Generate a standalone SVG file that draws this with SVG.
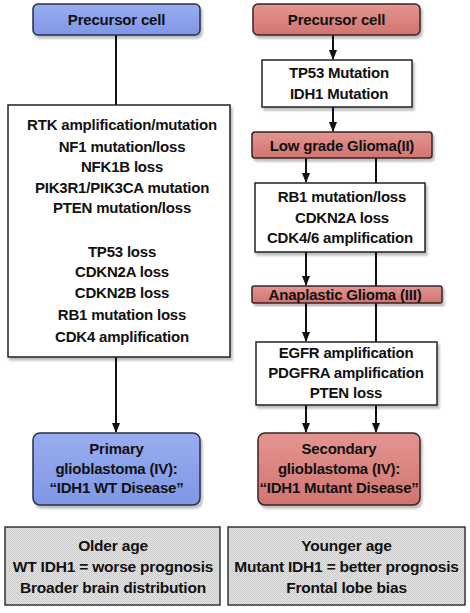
<svg xmlns="http://www.w3.org/2000/svg" width="470" height="613" viewBox="0 0 470 613">
<defs>
<linearGradient id="gBlue" x1="0" y1="0" x2="0" y2="1">
<stop offset="0" stop-color="#98adf0"/>
<stop offset="1" stop-color="#7f97e6"/>
</linearGradient>
<linearGradient id="gRed" x1="0" y1="0" x2="0" y2="1">
<stop offset="0" stop-color="#e39591"/>
<stop offset="1" stop-color="#d27470"/>
</linearGradient>
<pattern id="pGray" width="2" height="2" patternUnits="userSpaceOnUse">
<rect width="2" height="2" fill="#e6e6e6"/>
<rect width="1" height="1" fill="#c9c9c9"/>
<rect x="1" y="1" width="1" height="1" fill="#c9c9c9"/>
</pattern>
<marker id="arr" viewBox="0 0 10 10" refX="9" refY="5" markerWidth="5" markerHeight="5" orient="auto">
<path d="M0,1 L10,5 L0,9 Z" fill="#111"/>
</marker>
<filter id="sh" x="-5%" y="-5%" width="115%" height="125%">
<feDropShadow dx="2" dy="3" stdDeviation="1" flood-color="#000" flood-opacity="0.25"/>
</filter>
</defs>
<style>
text{font-family:"Liberation Sans",Arial,sans-serif;font-weight:bold;font-size:15px;fill:#111;text-anchor:middle;letter-spacing:-0.2px}
.big{font-size:15.5px}
.blue{fill:url(#gBlue);stroke:#2a2f4a;stroke-width:1.5}
.red{fill:url(#gRed);stroke:#3a2222;stroke-width:1.5}
.white{fill:#fff;stroke:#222;stroke-width:1.5}
.gray{fill:url(#pGray);stroke:#333;stroke-width:1.5}
.conn line{stroke:#111;stroke-width:2}
</style>

<g class="conn" id="connectors">
<line x1="116" y1="35" x2="116" y2="105"/>
<line x1="116" y1="357" x2="116" y2="432" marker-end="url(#arr)"/>
<line x1="333" y1="35" x2="333" y2="59" marker-end="url(#arr)"/>
<line x1="333" y1="107" x2="333" y2="131" marker-end="url(#arr)"/>
<line x1="306" y1="158" x2="306" y2="182" marker-end="url(#arr)"/>
<line x1="376" y1="158" x2="376" y2="183"/>
<line x1="306" y1="252" x2="306" y2="285" marker-end="url(#arr)"/>
<line x1="376" y1="252" x2="376" y2="286"/>
<line x1="306" y1="303" x2="306" y2="341" marker-end="url(#arr)"/>
<line x1="376" y1="303" x2="376" y2="342"/>
<line x1="306" y1="405" x2="306" y2="432" marker-end="url(#arr)"/>
<line x1="376" y1="405" x2="376" y2="432" marker-end="url(#arr)"/>
</g>

<g id="precursor-left">
<rect class="blue" x="33" y="4" width="167" height="31" rx="5" filter="url(#sh)"/>
<text x="116.5" y="25">Precursor cell</text>
</g>

<g id="left-mutations">
<rect class="white" x="8" y="105" width="222" height="252" filter="url(#sh)"/>
<text x="122" y="130">RTK amplification/mutation</text>
<text x="122" y="152">NF1 mutation/loss</text>
<text x="122" y="172">NFK1B loss</text>
<text x="122" y="193">PIK3R1/PIK3CA mutation</text>
<text x="122" y="213">PTEN mutation/loss</text>
<text x="122" y="257">TP53 loss</text>
<text x="122" y="277">CDKN2A loss</text>
<text x="122" y="298">CDKN2B loss</text>
<text x="122" y="320">RB1 mutation loss</text>
<text x="122" y="342">CDK4 amplification</text>
</g>

<g id="primary-gbm">
<rect class="blue" x="33" y="433" width="167" height="72" rx="7" filter="url(#sh)"/>
<text x="116.5" y="454">Primary</text>
<text x="116.5" y="474">glioblastoma (IV):</text>
<text x="116.5" y="493">“IDH1 WT Disease”</text>
</g>

<g id="precursor-right">
<rect class="red" x="253" y="4" width="167" height="31" rx="5" filter="url(#sh)"/>
<text x="336.5" y="25">Precursor cell</text>
</g>

<g id="tp53-idh1">
<rect class="white" x="262" y="60" width="150" height="47" filter="url(#sh)"/>
<text x="339" y="78">TP53 Mutation</text>
<text x="339" y="99">IDH1 Mutation</text>
</g>

<g id="low-grade">
<rect class="red" x="252" y="132" width="180" height="26" rx="3" filter="url(#sh)"/>
<text x="342" y="151">Low grade Glioma(II)</text>
</g>

<g id="rb1-box">
<rect class="white" x="255" y="183" width="170" height="69" filter="url(#sh)"/>
<text x="342" y="202">RB1 mutation/loss</text>
<text x="342" y="223">CDKN2A loss</text>
<text x="340" y="243">CDK4/6 amplification</text>
</g>

<g id="anaplastic">
<rect class="red" x="252" y="286" width="190" height="17" rx="2" filter="url(#sh)"/>
<text x="345" y="300">Anaplastic Glioma (III)</text>
</g>

<g id="egfr-box">
<rect class="white" x="256" y="342" width="181" height="63" filter="url(#sh)"/>
<text x="346" y="358">EGFR amplification</text>
<text x="346" y="378">PDGFRA amplification</text>
<text x="346" y="398">PTEN loss</text>
</g>

<g id="secondary-gbm">
<rect class="red" x="258" y="433" width="162" height="72" rx="7" filter="url(#sh)"/>
<text x="339" y="454">Secondary</text>
<text x="339" y="474">glioblastoma (IV):</text>
<text x="339" y="493">“IDH1 Mutant Disease”</text>
</g>

<g id="older-age">
<rect class="gray" x="5" y="527" width="215" height="78"/>
<text class="big" x="113" y="551">Older age</text>
<text class="big" x="113" y="572">WT IDH1 = worse prognosis</text>
<text class="big" x="113" y="593">Broader brain distribution</text>
</g>

<g id="younger-age">
<rect class="gray" x="228" y="527" width="237" height="78"/>
<text class="big" x="346.5" y="551">Younger age</text>
<text class="big" x="346.5" y="572">Mutant IDH1 = better prognosis</text>
<text class="big" x="346.5" y="593">Frontal lobe bias</text>
</g>
</svg>
